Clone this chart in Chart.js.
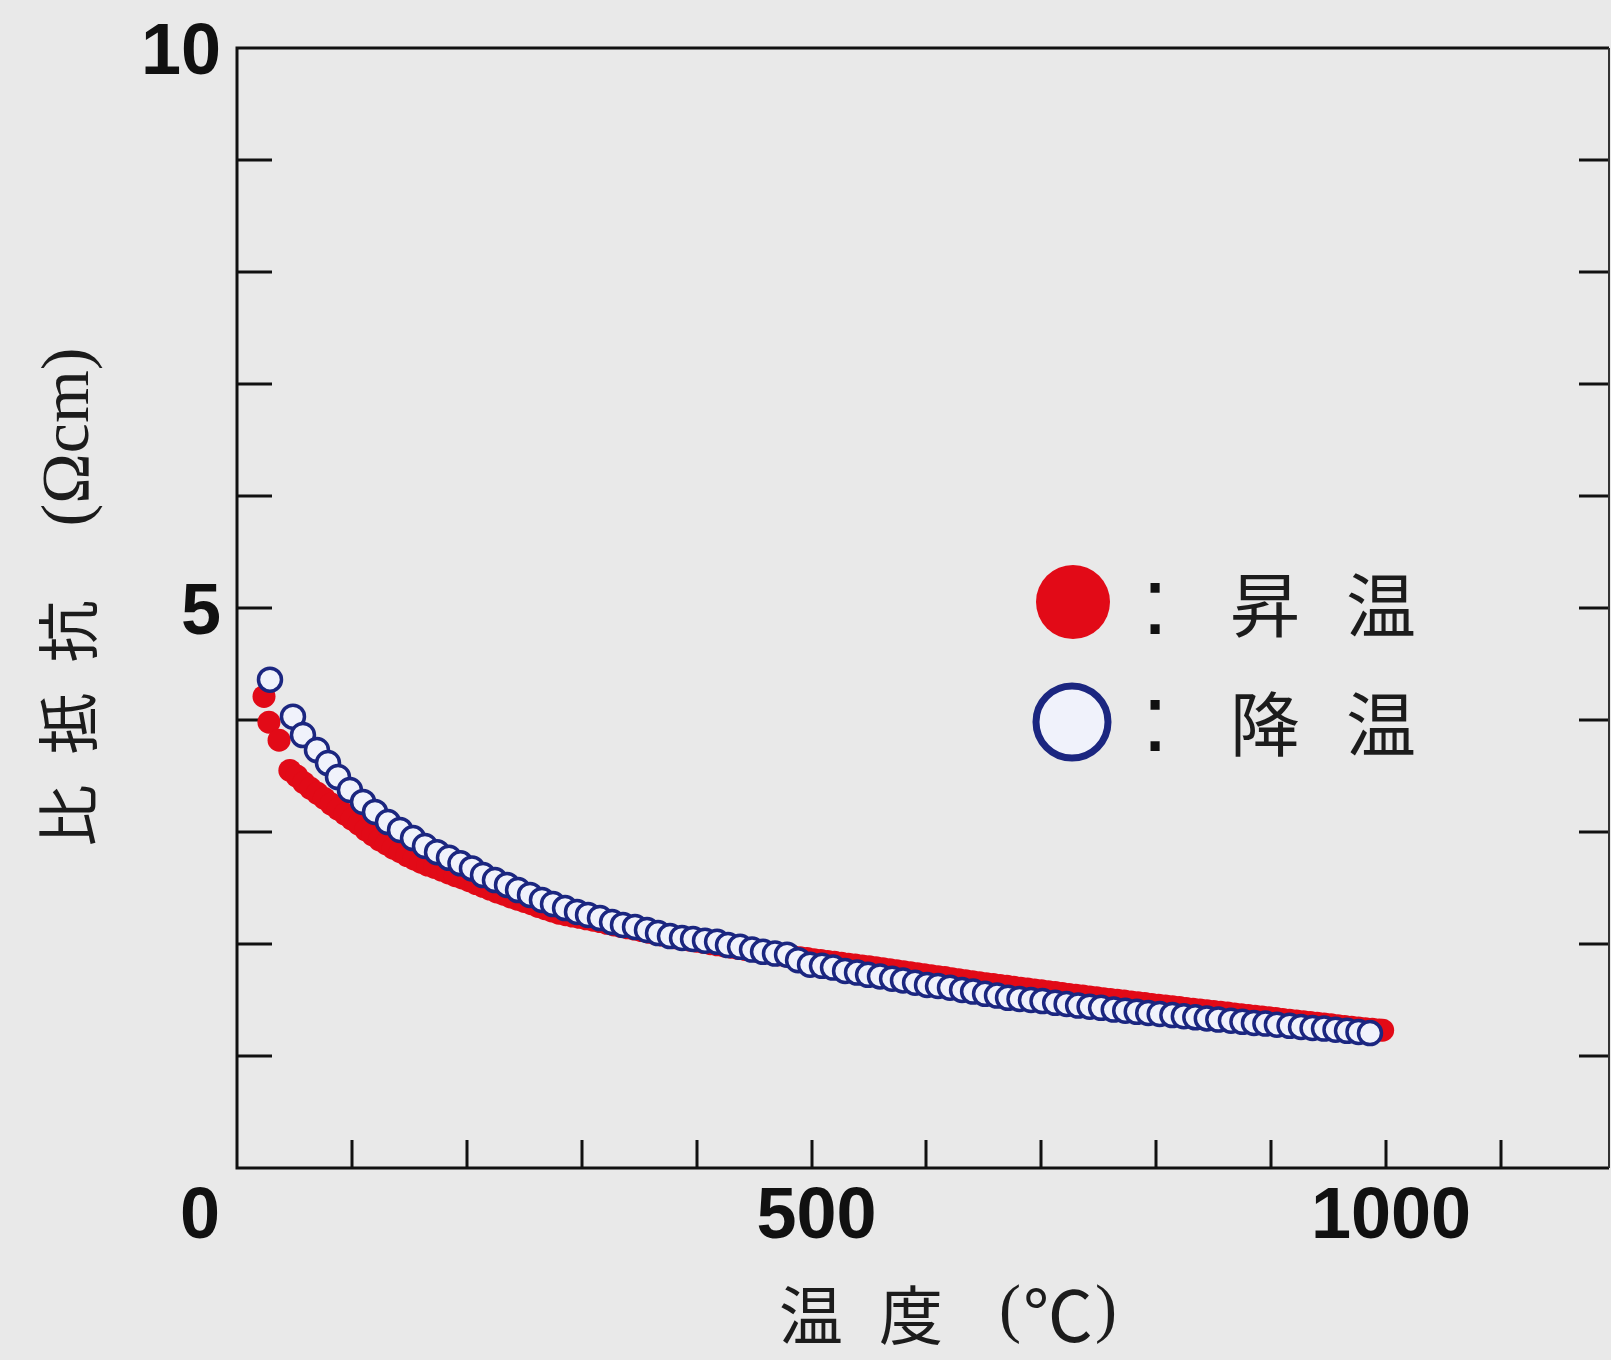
<!DOCTYPE html>
<html><head><meta charset="utf-8">
<script src="https://cdn.jsdelivr.net/npm/chart.js@4.4.1/dist/chart.umd.min.js"></script>
<style>html,body{margin:0;padding:0;background:#e9e9e9;}#wrap{width:1611px;height:1360px;}canvas{display:block;}</style>
</head><body><div id="wrap"><canvas id="c" width="1611" height="1360"></canvas></div>
<script>
// ---- data ----
const seriesLabels = ['昇温', '降温'];
const heatingT = [23.5,27.8,36.6,46,52,58,64,70,76,82,88,94,100,106,112,118,124,130,136,142,148,154,160,166,172,178,184,190,196,202,208,214,220,226,232,238,244,250,256,262,268,274,280,286,292,298,304,310,316,322,328,334,340,346,352,358,364,370,376,382,388,394,400,406,412,418,424,430,436,442,448,454,460,466,472,478,484,490,496,502,508,514,520,526,532,538,544,550,556,562,568,574,580,586,592,598,604,610,616,622,628,634,640,646,652,658,664,670,676,682,688,694,700,706,712,718,724,730,736,742,748,754,760,766,772,778,784,790,796,802,808,814,820,826,832,838,844,850,856,862,868,874,880,886,892,898,904,910,916,922,928,934,940,946,952,958,964,970,976,982,988,994,997];
const heatingR = [4.21,3.98,3.82,3.55,3.50,3.44,3.39,3.345,3.30,3.25,3.205,3.16,3.115,3.07,3.02,2.975,2.93,2.895,2.855,2.825,2.79,2.76,2.73,2.705,2.685,2.66,2.635,2.61,2.59,2.565,2.54,2.515,2.49,2.465,2.445,2.42,2.40,2.38,2.36,2.335,2.315,2.295,2.275,2.262,2.25,2.238,2.225,2.213,2.20,2.185,2.17,2.157,2.145,2.133,2.12,2.105,2.093,2.08,2.067,2.055,2.045,2.035,2.025,2.015,2.003,1.993,1.983,1.972,1.962,1.952,1.942,1.932,1.922,1.912,1.903,1.895,1.887,1.878,1.870,1.860,1.852,1.844,1.836,1.828,1.82,1.812,1.804,1.796,1.788,1.78,1.77,1.762,1.752,1.744,1.735,1.726,1.717,1.708,1.70,1.69,1.681,1.672,1.663,1.655,1.646,1.638,1.63,1.622,1.614,1.606,1.598,1.59,1.582,1.574,1.566,1.558,1.55,1.542,1.535,1.527,1.52,1.512,1.505,1.497,1.49,1.482,1.475,1.468,1.46,1.453,1.446,1.439,1.432,1.425,1.418,1.411,1.404,1.397,1.39,1.383,1.376,1.369,1.362,1.355,1.348,1.341,1.334,1.327,1.32,1.313,1.306,1.299,1.292,1.285,1.278,1.271,1.264,1.257,1.25,1.244,1.238,1.233,1.23];
const coolingT = [28.7,48.7,57.4,69.6,79.2,87.9,98.3,109.7,120.1,131.4,141.9,153.2,163.6,174.1,184.5,194.5,204.5,214.1,224.5,235.0,244.6,255.0,265.4,275.0,285.5,295.9,305.5,315.9,326.4,335.9,346.4,356.8,366.4,376.8,387.3,396.9,407.3,417.8,427.3,437.8,448.2,457.8,468.2,478.7,488.3,498.7,509.1,518.7,529.2,539.6,549.2,559.6,570.1,579.6,590.1,600.5,610.1,620.5,631.0,640.6,651.0,661.4,671.0,681,691,701,712,722,732,742,752,763,773,783,793,803,814,824,834,844,854,865,875,885,895,905,916,926,936,946,956,966,976,986];
const coolingR = [4.36,4.03,3.866,3.732,3.616,3.491,3.375,3.268,3.179,3.089,3.018,2.946,2.875,2.82,2.77,2.72,2.675,2.616,2.571,2.527,2.482,2.438,2.393,2.357,2.321,2.286,2.259,2.232,2.196,2.170,2.152,2.125,2.098,2.071,2.054,2.045,2.03,2.02,1.99,1.975,1.95,1.93,1.915,1.905,1.855,1.815,1.805,1.79,1.76,1.745,1.725,1.71,1.69,1.675,1.655,1.635,1.625,1.61,1.59,1.575,1.555,1.54,1.52,1.51,1.50,1.49,1.475,1.465,1.45,1.44,1.43,1.415,1.405,1.395,1.385,1.375,1.365,1.355,1.345,1.335,1.325,1.315,1.305,1.295,1.29,1.28,1.27,1.26,1.25,1.245,1.235,1.225,1.215,1.205];
const xMinorTicks = [100,200,300,400,500,600,700,800,900,1000,1100];
const yMinorTicks = [1,2,3,4,5,6,7,8,9];
const xLabelValues = [0,500,1000];
const xLabelTexts = ['0','500','1000'];
const yLabelValues = [5,10];
const yLabelTexts = ['5','10'];
const xTitleParts = ['温','度','(','℃',')'];
const yTitleParts = ['比','抵','抗','(Ωcm)'];

const CJK = '"Noto Sans CJK JP","Noto Sans CJK SC",sans-serif';
const SERIF = '"Liberation Serif","DejaVu Serif",serif';
const NUMF = 'bold 72px "Liberation Sans",Arial,sans-serif';
const RED = '#e20a17';
const NAVY = '#1b2680';
const LIGHT = '#f0f2fb';
const BG = '#e9e9e9';

function drawSeq(ctx, items, cx, cy) {
  let total = 0;
  items.forEach(it => { ctx.font = it.font; it.w = ctx.measureText(it.text).width; total += it.w + (it.gap || 0); });
  let x = cx - total / 2;
  ctx.textAlign = 'left';
  ctx.textBaseline = 'middle';
  items.forEach(it => { x += (it.gap || 0); ctx.font = it.font; ctx.fillText(it.text, x, cy + (it.dy || 0)); x += it.w; });
}

const deco = {
  id: 'deco',
  beforeDraw(chart) {
    const ctx = chart.ctx;
    ctx.save(); ctx.fillStyle = BG; ctx.fillRect(0, 0, chart.width, chart.height); ctx.restore();
  },
  beforeDatasetsDraw(chart) {
    const ctx = chart.ctx, a = chart.chartArea, xs = chart.scales.x, ys = chart.scales.y;
    ctx.save();
    ctx.strokeStyle = '#111';
    ctx.lineCap = 'butt';
    ctx.lineWidth = 3;
    yMinorTicks.forEach(v => {
      const y = Math.round(ys.getPixelForValue(v));
      ctx.beginPath(); ctx.moveTo(a.left, y); ctx.lineTo(a.left + 35, y); ctx.stroke();
      ctx.beginPath(); ctx.moveTo(a.right - 30, y); ctx.lineTo(a.right, y); ctx.stroke();
    });
    xMinorTicks.forEach(v => {
      const x = Math.round(xs.getPixelForValue(v));
      ctx.beginPath(); ctx.moveTo(x, a.bottom); ctx.lineTo(x, a.bottom - 28); ctx.stroke();
    });
    ctx.lineWidth = 3;
    ctx.beginPath();
    ctx.moveTo(a.right, a.top); ctx.lineTo(a.left, a.top); ctx.lineTo(a.left, a.bottom); ctx.lineTo(a.right, a.bottom);
    ctx.stroke();
    ctx.lineWidth = 2; ctx.strokeStyle = '#333';
    ctx.beginPath(); ctx.moveTo(a.right, a.top); ctx.lineTo(a.right, a.bottom); ctx.stroke();
    ctx.restore();
  },
  afterDraw(chart) {
    const ctx = chart.ctx, a = chart.chartArea, xs = chart.scales.x, ys = chart.scales.y;
    ctx.save();
    ctx.fillStyle = '#111';
    // tick labels
    ctx.font = NUMF; ctx.textAlign = 'center'; ctx.textBaseline = 'middle';
    xLabelValues.forEach((v, i) => {
      let x = xs.getPixelForValue(v);
      if (v === xs.min) x -= 37; else x += 5;
      ctx.fillText(xLabelTexts[i], x, a.bottom + 50);
    });
    ctx.textAlign = 'right';
    yLabelValues.forEach((v, i) => {
      ctx.fillText(yLabelTexts[i], a.left - 16, ys.getPixelForValue(v) + 6);
    });
    // axis titles
    ctx.fillStyle = '#1c1c1c';
    const cj = '400 62px ' + CJK;
    drawSeq(ctx, [
      {text: xTitleParts[0], font: '400 64px ' + CJK},
      {text: xTitleParts[1], font: '400 64px ' + CJK, gap: 36},
      {text: xTitleParts[2], font: '66px ' + SERIF, gap: 56, dy: -2},
      {text: xTitleParts[3], font: '400 70px ' + CJK, gap: 2},
      {text: xTitleParts[4], font: '66px ' + SERIF, gap: 2, dy: -2}
    ], 948, 1315);
    ctx.save();
    ctx.translate(68, 597);
    ctx.rotate(-Math.PI / 2);
    drawSeq(ctx, [
      {text: yTitleParts[0], font: cj},
      {text: yTitleParts[1], font: cj, gap: 30},
      {text: yTitleParts[2], font: cj, gap: 30},
      {text: yTitleParts[3], font: '68px ' + SERIF, gap: 74, dy: 2}
    ], 0, 0);
    ctx.restore();
    // legend
    const ds = chart.data.datasets;
    const heat = ds.find(d => d.label === seriesLabels[0]);
    const cool = ds.find(d => d.label === seriesLabels[1]);
    ctx.beginPath(); ctx.arc(1073, 602, 37, 0, Math.PI * 2);
    ctx.fillStyle = heat.backgroundColor; ctx.fill();
    ctx.beginPath(); ctx.arc(1072, 722, 36, 0, Math.PI * 2);
    ctx.fillStyle = cool.backgroundColor; ctx.fill();
    ctx.lineWidth = 7; ctx.strokeStyle = cool.borderColor; ctx.stroke();
    ctx.fillStyle = '#111';
    ctx.font = '96px "Liberation Sans",Arial,sans-serif';
    ctx.textAlign = 'center'; ctx.textBaseline = 'alphabetic';
    ctx.fillText(':', 1155, 634);
    ctx.fillText(':', 1155, 751);
    ctx.fillStyle = '#1c1c1c';
    ctx.font = '400 70px ' + CJK; ctx.textBaseline = 'middle';
    [heat.label, cool.label].forEach((lab, i) => {
      const y = i === 0 ? 605 : 724;
      ctx.fillText(lab[0], 1265, y);
      ctx.fillText(lab[1], 1381, y);
    });
    ctx.restore();
  }
};

new Chart(document.getElementById('c'), {
  type: 'scatter',
  data: {
    datasets: [
      {
        label: seriesLabels[1],
        data: coolingT.map((t, i) => ({x: t, y: coolingR[i]})),
        pointRadius: 11.5, borderWidth: 3.5,
        borderColor: NAVY, backgroundColor: LIGHT, order: 0
      },
      {
        label: seriesLabels[0],
        data: heatingT.map((t, i) => ({x: t, y: heatingR[i]})),
        pointRadius: 11.5, borderWidth: 0,
        borderColor: RED, backgroundColor: RED, order: 1
      }
    ]
  },
  options: {
    responsive: false, animation: false, devicePixelRatio: 1,
    layout: {autoPadding: false, padding: {left: 237, top: 48, right: 2, bottom: 192}},
    plugins: {legend: {display: false}, tooltip: {enabled: false}},
    scales: {
      x: {type: 'linear', min: 0, max: 1194, display: false},
      y: {type: 'linear', min: 0, max: 10, display: false}
    }
  },
  plugins: [deco]
});
</script>
</body></html>
